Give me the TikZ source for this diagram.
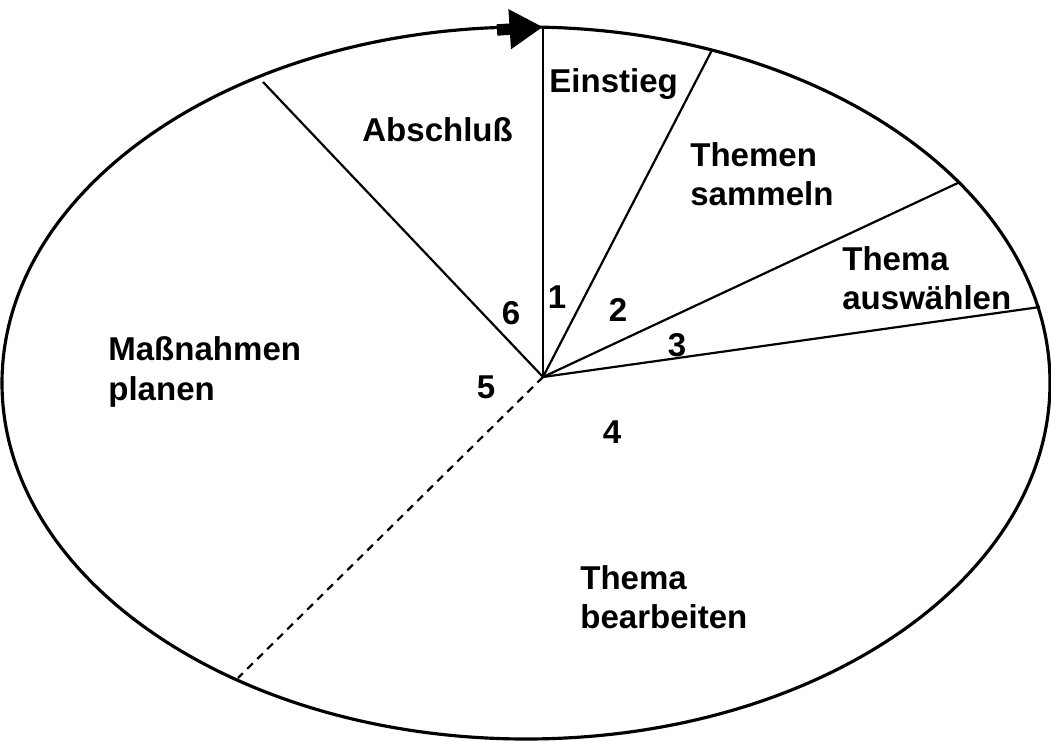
\documentclass[tikz,border=0pt]{standalone}
\usepackage{fontspec}
\setmainfont{Liberation Sans}
\usetikzlibrary{arrows.meta}

\begin{document}
\begin{tikzpicture}[x=0.02cm, y=-0.02cm,
  lbl/.style={font=\fontsize{18.8}{22.5}\selectfont\bfseries, align=left, anchor=west, inner sep=0pt},
  num/.style={font=\fontsize{18.8}{22.5}\selectfont\bfseries, inner sep=0pt},
  spoke/.style={line width=1.25pt}]

\useasboundingbox (0,0) rectangle (1051,742);

% ── Cycle outline ──
\draw[line width=1.8pt] (526,383) ellipse [x radius=524, y radius=356];

% ── Centre and rim points ──
\coordinate (c)  at (543,377);
\coordinate (r1) at (543,27);
\coordinate (r2) at (712,50);
\coordinate (r3) at (960,182);
\coordinate (r4) at (1040,307);
\coordinate (r5) at (238,678);
\coordinate (r6) at (263,82);

\draw[spoke] (c) -- (r1);
\draw[spoke] (c) -- (r2);
\draw[spoke] (c) -- (r3);
\draw[spoke] (c) -- (r4);
\draw[spoke, dash pattern=on 4.5pt off 3.5pt] (c) -- (r5);
\draw[spoke] (c) -- (r6);

% direction arrow on top
\coordinate (a0) at (497,30);
\draw[line width=6.5pt, -{Triangle[length=19pt, width=21.5pt]}] (a0) -- (r1);

% ── Phase labels ──
\node[lbl] (einstieg) at (549,84)  {Einstieg};
\node[lbl] (abschluss) at (362,130) {Abschluß};
\node[lbl] (sammeln) at (690,174) {Themen\\sammeln};
\node[lbl] (auswahl) at (842,278) {Thema\\auswählen};
\node[lbl] (planen) at (108,372) {Maßnahmen\\planen};
\node[lbl] (bearbeiten) at (580,597) {Thema\\bearbeiten};

% ── Step numbers ──
\node[num] (n1) at (557,297) {1};
\node[num] (n2) at (618,310) {2};
\node[num] (n3) at (677,345) {3};
\node[num] (n4) at (612,432) {4};
\node[num] (n5) at (486,387) {5};
\node[num] (n6) at (511,313) {6};

\end{tikzpicture}
\end{document}
